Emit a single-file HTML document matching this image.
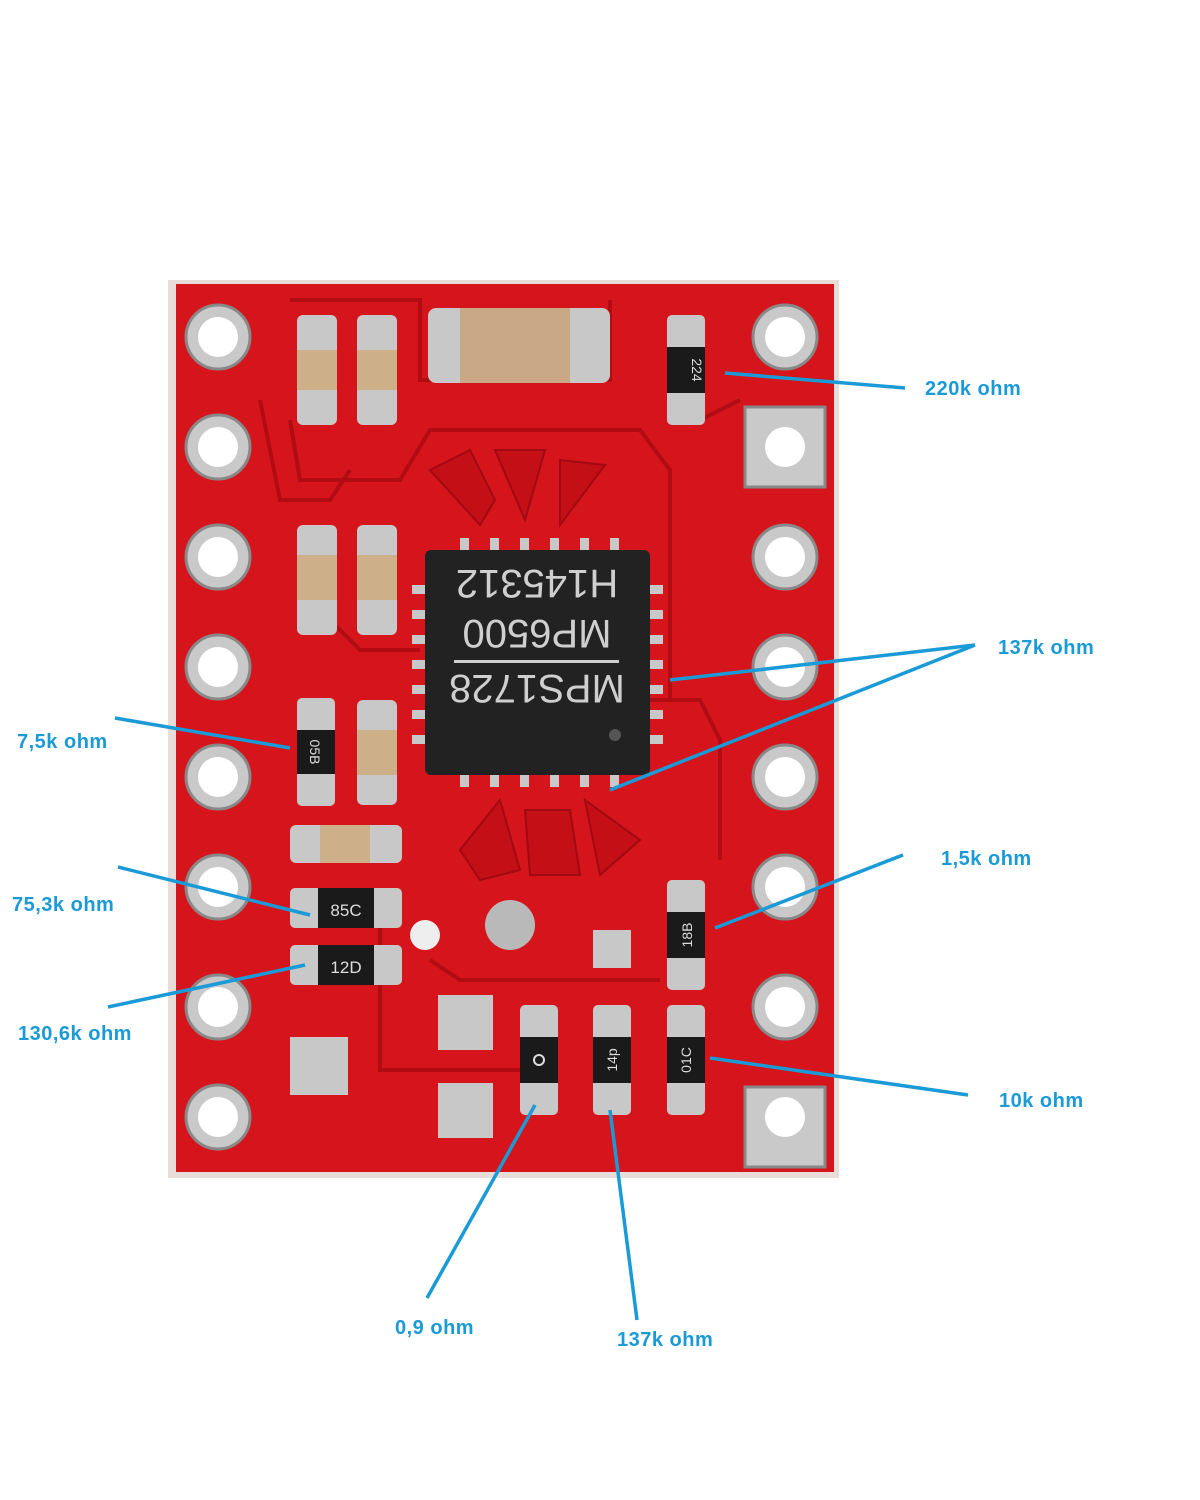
<!DOCTYPE html>
<html><head><meta charset="utf-8"><style>
html,body{margin:0;padding:0;background:#fff;}
svg{display:block}
text{font-family:"Liberation Sans",sans-serif;}
.l{fill:#1a9ad6;font-weight:bold;font-size:20px;letter-spacing:0.5px;}
</style></head><body>
<svg width="1200" height="1500" viewBox="0 0 1200 1500" xmlns="http://www.w3.org/2000/svg">
<rect x="168" y="280" width="671" height="898" fill="#e8ddd8"/>
<rect x="176" y="284" width="658" height="888" fill="#d6141b"/>
<g fill="none" stroke="#b00c12" stroke-width="4">
<path d="M290 300 H420 V380 H610 V300"/><path d="M290 420 L300 480 H400 L430 430 H640 L670 470 V700"/>
<path d="M260 400 L280 500 H330 L350 470"/><path d="M330 620 L360 650 H420"/><path d="M650 700 L700 700 L720 740 V860"/>
<path d="M380 900 V1070 H520"/><path d="M430 960 L460 980 H660"/><path d="M700 420 L740 400"/>
</g>
<g fill="#c9c9c9" stroke="#888" stroke-width="3">
<circle cx="218" cy="337" r="32"/><circle cx="218" cy="447" r="32"/><circle cx="218" cy="557" r="32"/><circle cx="218" cy="667" r="32"/><circle cx="218" cy="777" r="32"/><circle cx="218" cy="887" r="32"/><circle cx="218" cy="1007" r="32"/><circle cx="218" cy="1117" r="32"/>
<circle cx="785" cy="337" r="32"/><rect x="745" y="407" width="80" height="80"/><circle cx="785" cy="557" r="32"/><circle cx="785" cy="667" r="32"/><circle cx="785" cy="777" r="32"/><circle cx="785" cy="887" r="32"/><circle cx="785" cy="1007" r="32"/><rect x="745" y="1087" width="80" height="80"/>
</g>
<g fill="#fff">
<circle cx="218" cy="337" r="20"/><circle cx="218" cy="447" r="20"/><circle cx="218" cy="557" r="20"/><circle cx="218" cy="667" r="20"/><circle cx="218" cy="777" r="20"/><circle cx="218" cy="887" r="20"/><circle cx="218" cy="1007" r="20"/><circle cx="218" cy="1117" r="20"/>
<circle cx="785" cy="337" r="20"/><circle cx="785" cy="447" r="20"/><circle cx="785" cy="557" r="20"/><circle cx="785" cy="667" r="20"/><circle cx="785" cy="777" r="20"/><circle cx="785" cy="887" r="20"/><circle cx="785" cy="1007" r="20"/><circle cx="785" cy="1117" r="20"/>
</g>
<g>
<rect x="297" y="315" width="40" height="110" rx="6" fill="#c8c8c8"/><rect x="297" y="350" width="40" height="40" fill="#cdb08a"/>
<rect x="357" y="315" width="40" height="110" rx="6" fill="#c8c8c8"/><rect x="357" y="350" width="40" height="40" fill="#cdb08a"/>
<rect x="428" y="308" width="182" height="75" rx="8" fill="#c8c8c8"/><rect x="460" y="308" width="110" height="75" fill="#c9a985"/>
<rect x="297" y="525" width="40" height="110" rx="6" fill="#c8c8c8"/><rect x="297" y="555" width="40" height="45" fill="#cdb08a"/>
<rect x="357" y="525" width="40" height="110" rx="6" fill="#c8c8c8"/><rect x="357" y="555" width="40" height="45" fill="#cdb08a"/>
<rect x="357" y="700" width="40" height="105" rx="6" fill="#c8c8c8"/><rect x="357" y="730" width="40" height="45" fill="#cdb08a"/>
<rect x="290" y="825" width="112" height="38" rx="6" fill="#c8c8c8"/><rect x="320" y="825" width="50" height="38" fill="#cdb08a"/>
</g>
<g>
<rect x="667" y="315" width="38" height="110" rx="5" fill="#c8c8c8"/><rect x="667" y="347" width="38" height="46" fill="#1a1a1a"/>
<text transform="translate(692,370) rotate(90)" fill="#ddd" font-size="14" text-anchor="middle">224</text>
<rect x="297" y="698" width="38" height="108" rx="5" fill="#c8c8c8"/><rect x="297" y="730" width="38" height="44" fill="#1a1a1a"/>
<text transform="translate(310,752) rotate(90)" fill="#ddd" font-size="14" text-anchor="middle">05B</text>
<rect x="290" y="888" width="112" height="40" rx="5" fill="#c8c8c8"/><rect x="318" y="888" width="56" height="40" fill="#1a1a1a"/>
<text x="346" y="916" fill="#ddd" font-size="17" text-anchor="middle">85C</text>
<rect x="290" y="945" width="112" height="40" rx="5" fill="#c8c8c8"/><rect x="318" y="945" width="56" height="40" fill="#1a1a1a"/>
<text x="346" y="973" fill="#ddd" font-size="17" text-anchor="middle">12D</text>
<rect x="667" y="880" width="38" height="110" rx="5" fill="#c8c8c8"/><rect x="667" y="912" width="38" height="46" fill="#1a1a1a"/>
<text transform="translate(692,935) rotate(-90)" fill="#ddd" font-size="14" text-anchor="middle">18B</text>
<rect x="520" y="1005" width="38" height="110" rx="5" fill="#c8c8c8"/><rect x="520" y="1037" width="38" height="46" fill="#1a1a1a"/><circle cx="539" cy="1060" r="5" fill="none" stroke="#ddd" stroke-width="2"/>
<rect x="593" y="1005" width="38" height="110" rx="5" fill="#c8c8c8"/><rect x="593" y="1037" width="38" height="46" fill="#1a1a1a"/>
<text transform="translate(617,1060) rotate(-90)" fill="#ddd" font-size="14" text-anchor="middle">14p</text>
<rect x="667" y="1005" width="38" height="110" rx="5" fill="#c8c8c8"/><rect x="667" y="1037" width="38" height="46" fill="#1a1a1a"/>
<text transform="translate(691,1060) rotate(-90)" fill="#ddd" font-size="14" text-anchor="middle">01C</text>
</g>
<g fill="#c8c8c8">
<rect x="438" y="995" width="55" height="55"/><rect x="438" y="1083" width="55" height="55"/><rect x="290" y="1037" width="58" height="58"/><rect x="593" y="930" width="38" height="38"/>
<circle cx="510" cy="925" r="25" fill="#b9b9b9"/><circle cx="425" cy="935" r="15" fill="#eee"/>
</g>
<g fill="#c40f16" stroke="#a00a10" stroke-width="2">
<path d="M430 470 L470 450 L495 500 L480 525 Z"/><path d="M495 450 H545 L525 520 Z"/><path d="M560 460 L605 465 L560 525 Z"/>
<path d="M460 850 L500 800 L520 870 L480 880 Z"/><path d="M525 810 H570 L580 875 L530 875 Z"/><path d="M585 800 L640 840 L600 875 Z"/>
</g>
<g fill="#c8c8c8">
<rect x="460" y="538" width="9" height="14"/><rect x="490" y="538" width="9" height="14"/><rect x="520" y="538" width="9" height="14"/><rect x="550" y="538" width="9" height="14"/><rect x="580" y="538" width="9" height="14"/><rect x="610" y="538" width="9" height="14"/>
<rect x="460" y="773" width="9" height="14"/><rect x="490" y="773" width="9" height="14"/><rect x="520" y="773" width="9" height="14"/><rect x="550" y="773" width="9" height="14"/><rect x="580" y="773" width="9" height="14"/><rect x="610" y="773" width="9" height="14"/>
<rect x="412" y="585" width="15" height="9"/><rect x="412" y="610" width="15" height="9"/><rect x="412" y="635" width="15" height="9"/><rect x="412" y="660" width="15" height="9"/><rect x="412" y="685" width="15" height="9"/><rect x="412" y="710" width="15" height="9"/><rect x="412" y="735" width="15" height="9"/>
<rect x="648" y="585" width="15" height="9"/><rect x="648" y="610" width="15" height="9"/><rect x="648" y="635" width="15" height="9"/><rect x="648" y="660" width="15" height="9"/><rect x="648" y="685" width="15" height="9"/><rect x="648" y="710" width="15" height="9"/><rect x="648" y="735" width="15" height="9"/>
</g>
<rect x="425" y="550" width="225" height="225" rx="6" fill="#222"/>
<g transform="rotate(180 537 660)" fill="#cfcfcf" font-family="Liberation Mono,monospace" font-size="40" text-anchor="middle">
<text x="537" y="645">MPS1728</text><text x="537" y="700">MP6500</text><text x="537" y="750">H145312</text>
<rect x="455" y="657" width="165" height="3"/>
</g>
<circle cx="615" cy="735" r="6" fill="#555"/>
<g stroke="#1a9ad6" stroke-width="3.5" fill="none">
<path d="M725 373 L905 388"/><path d="M975 645 L670 680"/><path d="M975 645 L610 790"/>
<path d="M115 718 L290 748"/><path d="M118 867 L310 915"/><path d="M108 1007 L305 965"/>
<path d="M903 855 L715 928"/><path d="M968 1095 L710 1058"/><path d="M427 1298 L535 1105"/><path d="M637 1320 L610 1110"/>
</g>
<text class="l" x="925" y="395">220k ohm</text>
<text class="l" x="998" y="654">137k ohm</text>
<text class="l" x="17" y="748">7,5k ohm</text>
<text class="l" x="12" y="911">75,3k ohm</text>
<text class="l" x="18" y="1040">130,6k ohm</text>
<text class="l" x="941" y="865">1,5k ohm</text>
<text class="l" x="999" y="1107">10k ohm</text>
<text class="l" x="395" y="1334">0,9 ohm</text>
<text class="l" x="617" y="1346">137k ohm</text>
</svg>
</body></html>
